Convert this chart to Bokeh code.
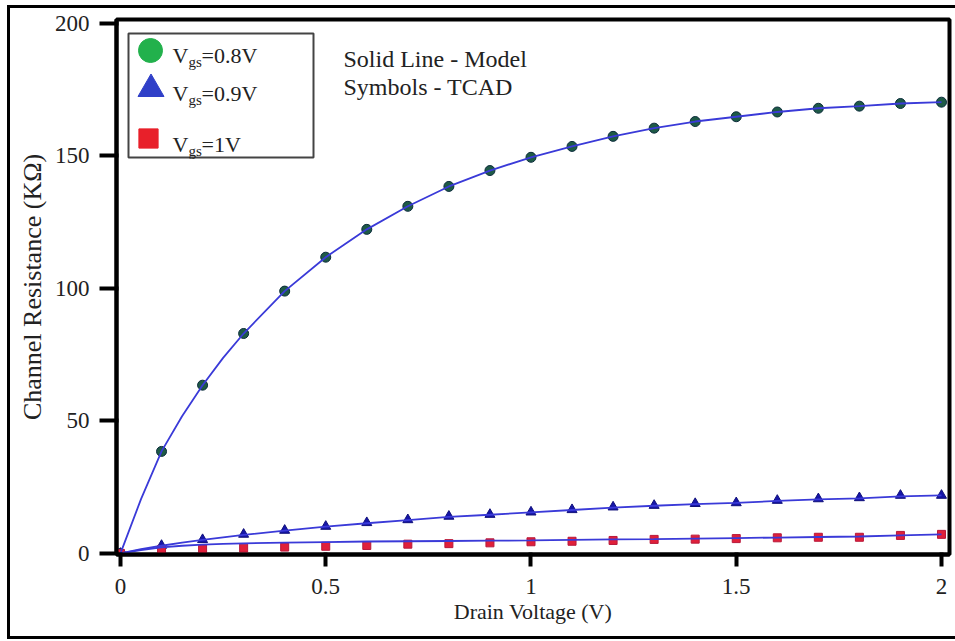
from bokeh.plotting import figure
from bokeh.models import Range1d, FixedTicker, Legend, LegendItem, Label, BoxAnnotation
from bokeh.embed import file_html
from bokeh.resources import INLINE

# ---------------- data ----------------
vds_tcad = [0.0, 0.1, 0.2, 0.3, 0.4, 0.5, 0.6, 0.7, 0.8, 0.9, 1.0,
            1.1, 1.2, 1.3, 1.4, 1.5, 1.6, 1.7, 1.8, 1.9, 2.0]
tcad_08 = [0, 38.5, 63.5, 83, 99, 111.8, 122.3, 131, 138.5, 144.5, 149.5,
           153.6, 157.4, 160.5, 163, 164.8, 166.6, 168, 168.8, 169.8, 170.3]
tcad_09 = [0, 3.0, 5.2, 7.2, 8.7, 10.2, 11.6, 12.7, 14.0, 14.7, 15.6,
           16.5, 17.5, 18.1, 18.8, 19.1, 20.0, 20.6, 21.0, 21.9, 21.9]
tcad_10 = [0, 1.5, 1.7, 2.0, 2.4, 2.7, 3.0, 3.5, 3.7, 4.0, 4.4,
           4.6, 4.9, 5.3, 5.4, 5.6, 5.9, 6.1, 6.1, 6.8, 7.2]

vds_model = [0.0, 0.05, 0.1, 0.15, 0.2, 0.25, 0.3, 0.4, 0.5, 0.6, 0.7, 0.8, 0.9,
             1.0, 1.1, 1.2, 1.3, 1.4, 1.5, 1.6, 1.7, 1.8, 1.9, 2.0]
model_08 = [0, 20.5, 38.5, 51.8, 63.5, 73.8, 83, 99, 111.8, 122.3, 131, 138.5, 144.5,
            149.5, 153.6, 157.4, 160.5, 163, 164.8, 166.6, 168, 168.8, 169.8, 170.3]
model_09 = [0, 1.6, 2.9, 4.1, 5.1, 6.1, 7.0, 8.6, 10.1, 11.4, 12.6, 13.8, 14.6,
            15.5, 16.4, 17.3, 18.0, 18.6, 19.1, 19.8, 20.4, 20.8, 21.5, 21.9]
model_10 = [0, 1.3, 2.3, 2.9, 3.3, 3.6, 3.8, 4.1, 4.3, 4.5, 4.6, 4.7, 4.8,
            4.9, 5.1, 5.3, 5.4, 5.6, 5.8, 6.0, 6.2, 6.4, 6.8, 7.2]

x_ticks = [0, 0.5, 1, 1.5, 2]
x_tick_labels = ["0", "0.5", "1", "1.5", "2"]
y_ticks = [0, 50, 100, 150, 200]
legend_values = ["=0.8V", "=0.9V", "=1V"]
note_lines = ["Solid Line - Model", "Symbols - TCAD"]

SERIF = "Liberation Serif"
TXT = "#222222"

# ---------------- figure ----------------
FL, FT, FW, FH = 116, 19, 833, 535
X0, X1 = -0.0097, 2.0195
Y0, Y1 = -0.4, 201.5

p = figure(frame_width=FW, frame_height=FH,
           min_border_left=FL, min_border_right=955 - FL - FW,
           min_border_top=FT, min_border_bottom=641 - FT - FH,
           x_range=Range1d(X0, X1), y_range=Range1d(Y0, Y1),
           output_backend="svg", toolbar_location=None)
# range used only so that legend-key renderers draw nothing inside the frame
p.extra_y_ranges = {"legend_keys": Range1d(1000, 1001)}

p.border_fill_color = None
p.background_fill_color = "white"
p.outline_line_color = "black"
p.outline_line_width = 4
p.xgrid.visible = False
p.ygrid.visible = False

p.styles = {
    "background-color": "white",
    "background-image": "linear-gradient(#000,#000), linear-gradient(#000,#000), linear-gradient(#000,#000)",
    "background-size": "3px 634px, 948px 3px, 948px 3px",
    "background-position": "7px 5px, 7px 5px, 7px 636px",
    "background-repeat": "no-repeat",
}

for ax in (p.xaxis[0], p.yaxis[0]):
    ax.axis_line_width = 4
    ax.axis_line_color = "black"
    ax.major_tick_line_width = 4
    ax.major_tick_line_color = "black"
    ax.minor_tick_line_color = None
    ax.major_label_text_font = SERIF
    ax.major_label_text_font_size = "23px"
    ax.major_label_text_color = TXT
    ax.axis_label_text_font = SERIF
    ax.axis_label_text_font_style = "normal"
    ax.axis_label_text_color = TXT

p.xaxis.ticker = FixedTicker(ticks=x_ticks)
p.xaxis.major_label_overrides = {t: l for t, l in zip(x_ticks, x_tick_labels)}
p.xaxis.major_tick_out = 12
p.xaxis.major_tick_in = 2
p.xaxis.major_label_standoff = 12
p.xaxis.axis_label = "Drain Voltage (V)"
p.xaxis.axis_label_text_font_size = "22px"
p.xaxis.axis_label_standoff = 2

p.yaxis.ticker = FixedTicker(ticks=y_ticks)
p.yaxis.major_tick_out = 17
p.yaxis.major_tick_in = 2
p.yaxis.major_label_standoff = 10
p.yaxis.axis_label = "Channel Resistance (KΩ)"
p.yaxis.axis_label_text_font_size = "26px"
p.yaxis.axis_label_standoff = 5

# ---------------- marks ----------------
p.scatter(vds_tcad, tcad_08, marker="circle", size=10,
          fill_color="#1e5a46", line_color="#0b2b3b", line_width=1)
p.scatter(vds_tcad, tcad_09, marker="triangle", size=10,
          fill_color="#1515a8", line_color="#10107a", line_width=1)
p.scatter(vds_tcad, tcad_10, marker="square", size=8,
          fill_color="#e0203a", line_color="#b8183a", line_width=1)

LINE = "#3a3ad8"
for ys in (model_08, model_09, model_10):
    p.line(vds_model, ys, line_color=LINE, line_width=1.8)

# ---------------- legend ----------------
def dx(px):
    return X0 + (px - FL) * (X1 - X0) / FW

def dy(py):
    return Y1 - (py - FT) * (Y1 - Y0) / FH

p.add_layout(BoxAnnotation(left=dx(128), right=dx(313), top=dy(33), bottom=dy(157),
                           fill_alpha=0, line_color="#444444", line_alpha=1, line_width=2))

leg_specs = [  # marker, colour, size, centre (px in image), series
    ("circle", "#22b14c", 24, (150, 50), tcad_08),
    ("triangle", "#3040c8", 26, (150, 88), tcad_09),
    ("square", "#e8202a", 19, (148, 138), tcad_10),
]
for marker, col, size, (cx, cy), ys in leg_specs:
    r = p.scatter(x=vds_tcad[:1], y=ys[:1], marker=marker, size=size,
                  fill_color=col, line_color=col, y_range_name="legend_keys")
    g = size / 0.4
    left = cx - g / 2 - FL
    bottom = (FT + FH) - (cy + g / 2)
    leg = Legend(items=[LegendItem(label=" ", renderers=[r], index=0)],
                 location=(left, bottom), glyph_width=int(round(g)), glyph_height=int(round(g)),
                 padding=0, margin=0, spacing=0, border_line_alpha=0,
                 background_fill_alpha=0, label_text_font_size="1px",
                 label_standoff=0, label_width=1, label_height=1)
    p.add_layout(leg)

baselines = [55, 93, 144]
for val, base in zip(legend_values, baselines):
    p.add_layout(Label(x=dx(172), y=dy(base), text="V", text_font=SERIF,
                       text_font_size="22px", text_color=TXT, text_baseline="alphabetic"))
    p.add_layout(Label(x=dx(188), y=dy(base + 6), text="gs", text_font=SERIF,
                       text_font_size="15px", text_color=TXT, text_baseline="alphabetic"))
    p.add_layout(Label(x=dx(201), y=dy(base), text=val, text_font=SERIF,
                       text_font_size="22px", text_color=TXT, text_baseline="alphabetic"))

for line, base in zip(note_lines, [58, 86]):
    p.add_layout(Label(x=dx(343), y=dy(base), text=line, text_font=SERIF,
                       text_font_size="24px", text_color=TXT, text_baseline="alphabetic"))

open("out.html", "w").write(file_html(p, INLINE))
